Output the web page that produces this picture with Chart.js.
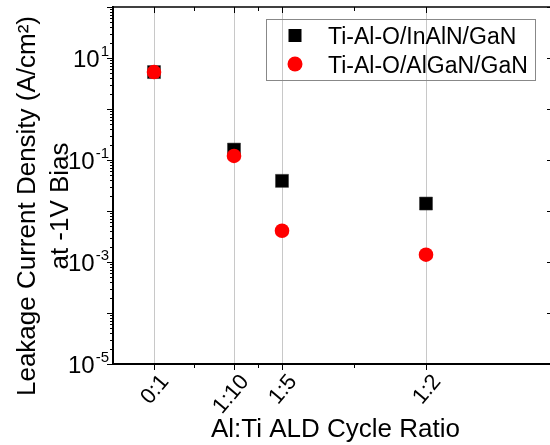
<!DOCTYPE html>
<html>
<head>
<meta charset="utf-8">
<script src="https://cdn.jsdelivr.net/npm/chart.js@4.4.0/dist/chart.umd.min.js"></script>
<style>
  html, body { margin: 0; padding: 0; background: #fff; overflow: hidden; }
  canvas { display: block; }
</style>
</head>
<body>
<canvas id="myChart" width="550" height="445"></canvas>
<script>
//--------------------- Data ---------------------

const ratioLabels = ["0:1", "1:10", "1:5", "1:2"];
const ratioPositions = [1, 2, 2.6, 4.4];
const inalnLeakage = [5.3, 0.16, 0.039, 0.014];
const alganLeakage = [5.3, 0.12, 0.0041, 0.00139];
const seriesNames = ["Ti-Al-O/InAlN/GaN", "Ti-Al-O/AlGaN/GaN"];
const yDecades = [-5, -4, -3, -2, -1, 0, 1, 2];
const yLabelDecades = [-5, -3, -1, 1];
const yTitleLines = ["Leakage Current Density (A/cm\u00B2)", "at -1V Bias"];
const xTitle = "Al:Ti ALD Cycle Ratio";

const FONT = "'Liberation Sans', Arial, sans-serif";

const toPoints = (values) => ratioPositions.map((x, i) => ({ x: x, y: values[i] }));

//--------------------- Axis decoration plugin ---------------------

function line(ctx, x1, y1, x2, y2) {
  ctx.beginPath();
  ctx.moveTo(x1, y1);
  ctx.lineTo(x2, y2);
  ctx.stroke();
}

const axisDecor = {
  id: "axisDecor",
  afterDraw(chart) {
    const { ctx, chartArea: a } = chart;
    const xs = chart.scales.x;
    const ys = chart.scales.y;
    ctx.save();
    ctx.strokeStyle = "#000";
    ctx.fillStyle = "#000";

    // top frame line
    ctx.lineWidth = 1.5;
    line(ctx, a.left, a.top, a.right, a.top);

    // x ticks, bottom (outward) and top (inward)
    ctx.lineWidth = 1;
    ratioPositions.forEach((v, i) => {
      const px = Math.round(xs.getPixelForValue(v)) + 0.5;
      line(ctx, px, a.bottom, px, a.bottom + 6);
      line(ctx, px, a.top, px, a.top + 6);
      if (i < ratioPositions.length - 1) {
        const mx = Math.round(xs.getPixelForValue((v + ratioPositions[i + 1]) / 2)) + 0.5;
        line(ctx, mx, a.bottom, mx, a.bottom + 4);
        line(ctx, mx, a.top, mx, a.top + 4);
      }
    });

    // y ticks, left with minors, right majors only
    yDecades.forEach((e) => {
      const py = Math.round(ys.getPixelForValue(Math.pow(10, e))) + 0.5;
      line(ctx, a.left - 6, py, a.left, py);
      line(ctx, a.right - 3, py, a.right, py);
      if (e < yDecades[yDecades.length - 1]) {
        for (let k = 2; k <= 9; k++) {
          const my = Math.round(ys.getPixelForValue(k * Math.pow(10, e))) + 0.5;
          line(ctx, a.left - 3, my, a.left, my);
        }
      }
    });

    // x tick labels, rotated
    ctx.font = "22px " + FONT;
    ctx.textAlign = "right";
    ctx.textBaseline = "middle";
    ratioPositions.forEach((v, i) => {
      const px = xs.getPixelForValue(v);
      ctx.save();
      ctx.translate(px + 11, a.bottom + 14);
      ctx.rotate((-50 * Math.PI) / 180);
      ctx.fillText(ratioLabels[i], 0, 0);
      ctx.restore();
    });

    // x title
    ctx.font = "26px " + FONT;
    ctx.textAlign = "center";
    ctx.textBaseline = "alphabetic";
    ctx.fillText(xTitle, (a.left + a.right) / 2 + 4, 437);

    // y tick labels as 10 with superscript exponent
    ctx.textAlign = "right";
    yLabelDecades.forEach((e) => {
      const py = ys.getPixelForValue(Math.pow(10, e));
      const exp = String(e);
      ctx.font = "15px " + FONT;
      const ew = ctx.measureText(exp).width;
      ctx.fillText(exp, a.left - 4, py - 2);
      ctx.font = "24px " + FONT;
      ctx.fillText("10", a.left - 5 - ew, py + 9);
    });

    // y title, two rotated lines
    ctx.font = "26px " + FONT;
    ctx.textAlign = "center";
    [35, 68].forEach((bx, i) => {
      ctx.save();
      ctx.translate(bx, 206);
      ctx.rotate(-Math.PI / 2);
      ctx.fillText(yTitleLines[i], 0, 0);
      ctx.restore();
    });

    // legend box
    ctx.strokeStyle = "#888";
    ctx.lineWidth = 1;
    ctx.strokeRect(266.5, 19.5, 269, 61);
    const ds = chart.data.datasets;
    ctx.fillStyle = ds[0].backgroundColor;
    ctx.fillRect(288.5, 29, 13, 13);
    ctx.fillStyle = ds[1].backgroundColor;
    ctx.beginPath();
    ctx.arc(295, 64, 7.5, 0, Math.PI * 2);
    ctx.fill();
    ctx.fillStyle = "#000";
    ctx.font = "23px " + FONT;
    ctx.textAlign = "left";
    ctx.fillText(ds[0].label, 328, 44);
    ctx.fillText(ds[1].label, 328, 73);

    ctx.restore();
  },
};

//--------------------- Chart ---------------------

const ctx = document.getElementById("myChart").getContext("2d");

const myChart = new Chart(ctx, {
  type: "scatter",
  data: {
    datasets: [
      {
        label: seriesNames[0],
        data: toPoints(inalnLeakage),
        pointStyle: "rect",
        pointRadius: 9.2,
        backgroundColor: "#000",
        borderColor: "#333",
        borderWidth: 0.5,
        order: 2,
      },
      {
        label: seriesNames[1],
        data: toPoints(alganLeakage),
        pointStyle: "circle",
        pointRadius: 7.3,
        backgroundColor: "#ff0000",
        borderWidth: 0,
        order: 1,
      },
    ],
  },
  options: {
    responsive: false,
    animation: false,
    events: [],
    layout: { autoPadding: false, padding: { top: 7, right: 0, left: 0, bottom: 0 } },
    plugins: {
      legend: { display: false },
      tooltip: { enabled: false },
    },
    scales: {
      x: {
        type: "linear",
        min: 0.4875,
        max: 5.95,
        afterBuildTicks: (s) => {
          s.ticks = ratioPositions.map((v) => ({ value: v }));
        },
        afterFit: (s) => {
          s.height = 81;
        },
        grid: { color: "#c8c8c8", lineWidth: 1, drawTicks: false },
        border: { display: true, color: "#000", width: 2 },
        ticks: { display: false },
      },
      y: {
        type: "logarithmic",
        min: 1e-5,
        max: 100,
        afterBuildTicks: (s) => {
          s.ticks = yDecades.map((e) => ({ value: Math.pow(10, e) }));
        },
        afterFit: (s) => {
          s.width = 113;
        },
        grid: { display: false },
        border: { display: true, color: "#000", width: 2 },
        ticks: { display: false },
      },
    },
  },
  plugins: [axisDecor],
});
</script>
</body>
</html>
